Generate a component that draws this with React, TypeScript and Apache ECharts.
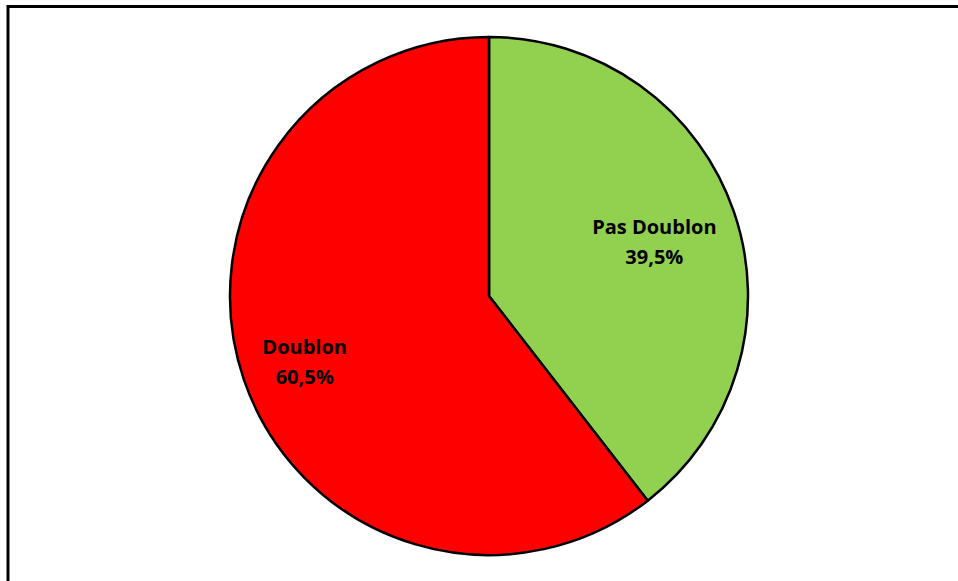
import React, { useEffect, useRef } from "react";
import * as echarts from "echarts";

const categories = ["Pas Doublon", "Doublon"];
const values = [39.5, 60.5];
const colors = ["#92D050", "#FF0000"];
const labelShift = [
  [40, -12],
  [-59, 23],
];

export default function App() {
  const ref = useRef<HTMLDivElement>(null);
  useEffect(() => {
    if (!ref.current) return;
    const chart = echarts.init(ref.current, null, { renderer: "svg" });
    chart.setOption({
      animation: false,
      backgroundColor: "#ffffff",
      graphic: [
        {
          type: "rect",
          shape: { x: 8, y: 6.5, width: 1200, height: 1200 },
          style: { fill: "none", stroke: "#000", lineWidth: 3 },
          silent: true,
        },
      ],
      series: [
        {
          type: "pie",
          center: [489, 296],
          radius: 259,
          startAngle: 90,
          clockwise: true,
          data: categories.map((name, i) => ({
            name,
            value: values[i],
            itemStyle: { color: colors[i] },
          })),
          itemStyle: { borderColor: "#000", borderWidth: 2.5 },
          label: {
            show: true,
            position: "inside",
            formatter: (p: any) =>
              `${p.name}\n${p.value.toFixed(1).replace(".", ",")}%`,
            fontFamily: "Open Sans",
            fontWeight: "bold",
            fontSize: 20,
            lineHeight: 30,
            color: "#000",
            align: "center",
          },
          labelLayout: (p: any) => ({
            dx: labelShift[p.dataIndex][0],
            dy: labelShift[p.dataIndex][1],
          }),
          emphasis: { disabled: true },
        },
      ],
    });
    return () => chart.dispose();
  }, []);
  return (
    <div
      ref={ref}
      style={{ position: "fixed", left: 0, top: 0, width: 958, height: 581 }}
    />
  );
}
